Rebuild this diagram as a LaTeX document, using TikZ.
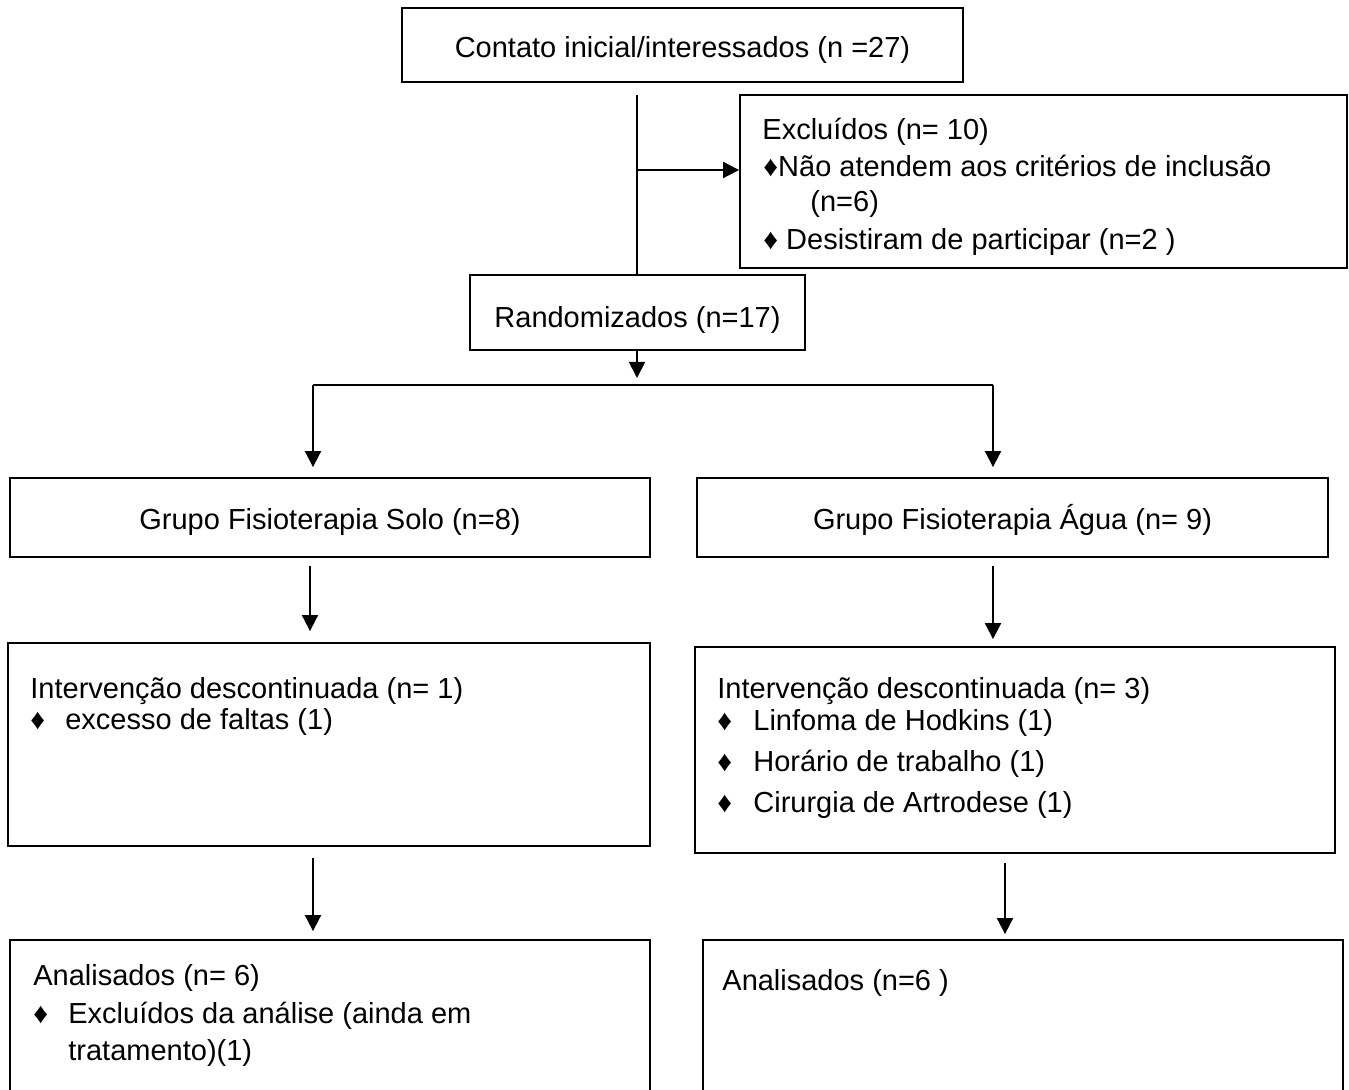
\documentclass[tikz,border=0pt]{standalone}
\usepackage{fontspec}
\setmainfont{Liberation Sans}
\usetikzlibrary{arrows.meta}

\begin{document}
\begin{tikzpicture}[x=0.5pt, y=0.5pt,
                boxnode/.style={rectangle, draw=black, line width=0.9pt, inner sep=0pt, text height=12.5pt, text depth=0pt, font=\fontsize{14.5}{17}\selectfont},
                linetext/.style={anchor=base west, inner sep=0pt, font=\fontsize{14.5}{17}\selectfont},
                link/.style={line width=0.9pt},
                arr/.style={line width=0.9pt, -{Triangle[width=8pt,length=8pt]}},
            ]
            \useasboundingbox (0,0) rectangle (1349,-1090);

            % caixas
            \node[boxnode, minimum width=280.5pt, minimum height=37pt]   (contato) at (682.5,-45)   {Contato inicial/interessados (n =27)};
            \node[boxnode, minimum width=303.5pt, minimum height=86.5pt] (excl)    at (1043.5,-181.5) {};
            \node[boxnode, minimum width=167.5pt, minimum height=37.5pt, text height=15.5pt] (rand) at (637.5,-312.5) {Randomizados (n=17)};
            \node[boxnode, minimum width=320pt, minimum height=39.5pt]   (soloG)   at (330,-517.5)   {Grupo Fisioterapia Solo (n=8)};
            \node[boxnode, minimum width=315.5pt, minimum height=39.5pt] (aguaG)   at (1012.5,-517.5) {Grupo Fisioterapia Água (n= 9)};
            \node[boxnode, minimum width=321pt, minimum height=101.5pt]  (soloI)   at (329,-744.5)   {};
            \node[boxnode, minimum width=320pt, minimum height=103pt]    (aguaI)   at (1015,-750)    {};
            \node[boxnode, minimum width=320pt, minimum height=85pt]     (soloA)   at (330,-1025)    {};
            \node[boxnode, minimum width=320pt, minimum height=85pt]     (aguaA)   at (1023,-1025)   {};

            % textos das caixas
            \node[linetext] (excH) at (762,-140)  {Excluídos (n= 10)};
            \node[linetext] (excA) at (763,-177)  {♦Não atendem aos critérios de inclusão};
            \node[linetext] (excB) at (810,-212)  {(n=6)};
            \node[linetext] (excC) at (763,-250)  {♦ Desistiram de participar (n=2 )};
            \node[linetext] (soloIH) at (30,-698) {Intervenção descontinuada (n= 1)};
            \node[linetext] (soloIA) at (30,-729) {\makebox[17.5pt][l]{♦}excesso de faltas (1)};
            \node[linetext] (aguaIH) at (717,-698) {Intervenção descontinuada (n= 3)};
            \node[linetext] (aguaIA) at (717,-730) {\makebox[18pt][l]{♦}Linfoma de Hodkins (1)};
            \node[linetext] (aguaIB) at (717,-771) {\makebox[18pt][l]{♦}Horário de trabalho (1)};
            \node[linetext] (aguaIC) at (717,-812) {\makebox[18pt][l]{♦}Cirurgia de Artrodese (1)};
            \node[linetext] (soloAH) at (33,-985)  {Analisados (n= 6)};
            \node[linetext] (soloAA) at (33,-1023) {\makebox[17.5pt][l]{♦}Excluídos da análise (ainda em};
            \node[linetext] (soloAB) at (68,-1060) {tratamento)(1)};
            \node[linetext] (aguaAH) at (722,-990) {Analisados (n=6 )};

            % pontos de ramificacao
            \coordinate (trunk)     at (637,-95);
            \coordinate (excbranch) at (637,-170);
            \coordinate (fork)      at (637,-385);
            \coordinate (forkL)     at (313,-385);
            \coordinate (forkR)     at (993,-385);

            \draw[link] (trunk) -- (trunk |- rand.north);
            \draw[arr] (excbranch) -- (excbranch -| excl.west);
            \draw[arr, shorten >=3.5pt] (fork |- rand.south) -- (fork);
            \draw[link] (forkL) -- (forkR);
            \draw[arr, shorten >=5pt] (forkL) -- (forkL |- soloG.north);
            \draw[arr, shorten >=5pt] (forkR) -- (forkR |- aguaG.north);
            \draw[arr, shorten <=4pt, shorten >=5.5pt] ([xshift=-10pt]soloG.south) -- ([xshift=-10pt]soloG.south |- soloI.north);
            \draw[arr, shorten <=4pt, shorten >=3.5pt] ([xshift=-9.75pt]aguaG.south) -- ([xshift=-9.75pt]aguaG.south |- aguaI.north);
            \draw[arr, shorten <=5.5pt, shorten >=4pt] ([xshift=-8pt]soloI.south) -- ([xshift=-8pt]soloI.south |- soloA.north);
            \draw[arr, shorten <=4.5pt, shorten >=2.5pt] ([xshift=-5pt]aguaI.south) -- ([xshift=-5pt]aguaI.south |- aguaA.north);
        \end{tikzpicture}
\end{document}
